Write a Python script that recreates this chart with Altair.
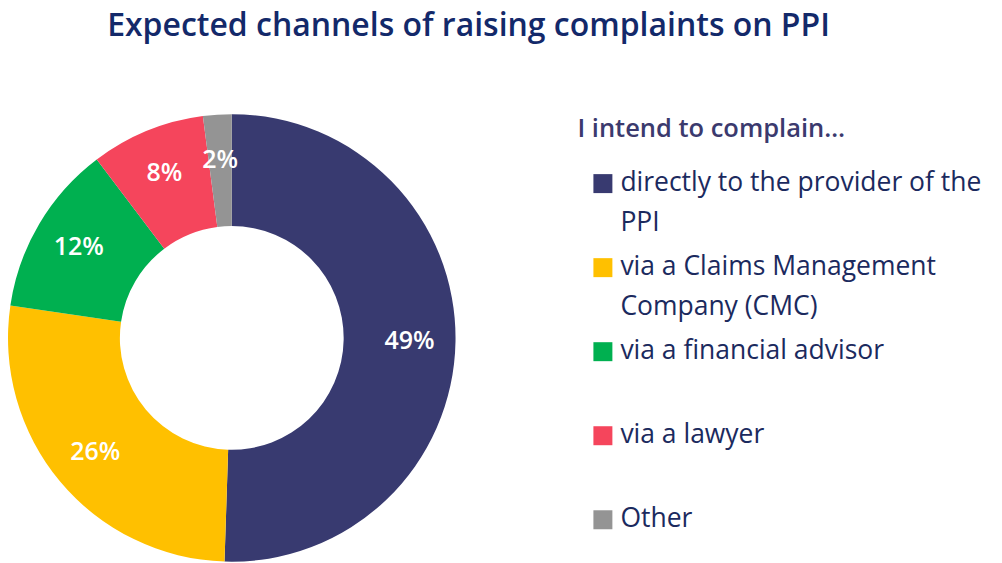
import altair as alt
import pandas as pd

title_text = "Expected channels of raising complaints on PPI"
legend_title = "I intend to complain…"
categories = [
    "directly to the provider of the PPI",
    "via a Claims Management Company (CMC)",
    "via a financial advisor",
    "via a lawyer",
    "Other",
]
values = [49, 26, 12, 8, 2]
pct_labels = ["49%", "26%", "12%", "8%", "2%"]
legend_labels = [
    "directly to the provider of the\nPPI",
    "via a Claims Management\nCompany (CMC)",
    "via a financial advisor",
    "via a lawyer",
    "Other",
]
colors = ["#383A70", "#FFC000", "#00B050", "#F5455C", "#949494"]

df = pd.DataFrame({
    "category": categories,
    "value": values,
    "label": pct_labels,
    "legend": legend_labels,
    "order": list(range(len(categories))),
})

CX, CY = 223, 292
FONT = "Open Sans"

color = alt.Color("category:N", scale=alt.Scale(domain=categories, range=colors), legend=None)
theta = alt.Theta("value:Q", stack=True)
order = alt.Order("order:Q")

base = alt.Chart(df)

arcs = base.mark_arc(outerRadius=224, innerRadius=112, strokeWidth=0).encode(
    theta=theta, color=color, order=order, x=alt.value(CX), y=alt.value(CY)
)

pct = base.mark_text(
    radius=178, font=FONT, fontSize=25, fontWeight=600, color="white"
).encode(theta=theta, order=order, text="label:N", x=alt.value(CX), y=alt.value(CY))

ys = alt.Y(
    "category:N", sort=categories,
    scale=alt.Scale(type="point", range=[137.5, 474], padding=0), axis=None,
)

squares = base.mark_square(size=361, filled=True, opacity=1).encode(
    x=alt.value(594.5), y=ys, color=color
)

leg_text = base.mark_text(
    align="left", baseline="alphabetic", dy=7, lineBreak="\n", lineHeight=40,
    font=FONT, fontSize=26.5, color="#1B2A5E",
).encode(x=alt.value(612), y=ys, text="legend:N")

leg_title = alt.Chart(pd.DataFrame({"t": [legend_title]})).mark_text(
    align="left", baseline="alphabetic", font=FONT, fontSize=25.5, fontWeight=600,
    color="#3B3A6E",
).encode(x=alt.value(569), y=alt.value(91), text="t:N")

chart = alt.layer(arcs, pct, squares, leg_text, leg_title).properties(
    width=986, height=520,
    padding={"top": 2, "left": 0, "right": 0, "bottom": 0},
    title=alt.TitleParams(
        title_text, fontSize=32, font=FONT, fontWeight=600, color="#13296A",
        anchor="middle", frame="group", dx=-33, offset=3,
    ),
).configure_view(stroke=None)

chart.save("out.html", embed_options={"renderer": "svg", "actions": False})
